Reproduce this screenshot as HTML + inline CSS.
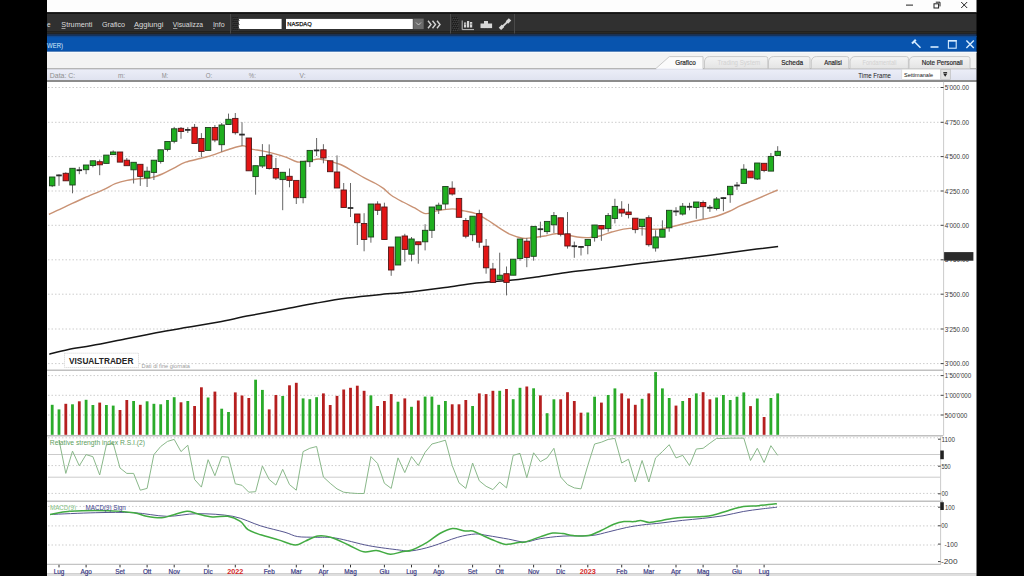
<!DOCTYPE html>
<html><head><meta charset="utf-8">
<style>
html,body{margin:0;padding:0;width:1024px;height:576px;overflow:hidden;background:#000}
svg{position:absolute;left:0;top:0;display:block}
text{font-family:"Liberation Sans",sans-serif}
</style></head><body>
<svg width="1024" height="576" viewBox="0 0 1024 576">
<rect x="0" y="0" width="1024" height="576" fill="#000"/>
<rect x="47" y="0" width="929.5" height="12.4" fill="#fdfdfd"/>
<rect x="906" y="4.6" width="7" height="1" fill="#222"/>
<rect x="934" y="3.8" width="4.6" height="4.2" fill="none" stroke="#222" stroke-width="1"/>
<path d="M935.8,2.2 L940,2.2 L940,6.4" fill="none" stroke="#222" stroke-width="1"/>
<path d="M961.2,2 L967.2,8 M967.2,2 L961.2,8" stroke="#222" stroke-width="1"/>
<rect x="47" y="12.2" width="929.5" height="1.8" fill="#151515"/>
<rect x="47" y="14" width="929.5" height="17.6" fill="#303030"/>
<rect x="47" y="31.6" width="929.5" height="2.2" fill="#2b2a25"/>
<rect x="47" y="33.8" width="929.5" height="2" fill="#1d3150"/>
<text x="46.9" y="27.2" font-size="7.8" fill="#dcdcdc" textLength="3.6" lengthAdjust="spacingAndGlyphs">e</text>
<text x="61.3" y="27.2" font-size="7.8" fill="#dcdcdc" textLength="31.2" lengthAdjust="spacingAndGlyphs">Strumenti</text>
<text x="102" y="27.2" font-size="7.8" fill="#dcdcdc" textLength="23" lengthAdjust="spacingAndGlyphs">Grafico</text>
<text x="134" y="27.2" font-size="7.8" fill="#dcdcdc" textLength="29.4" lengthAdjust="spacingAndGlyphs">Aggiungi</text>
<text x="172.8" y="27.2" font-size="7.8" fill="#dcdcdc" textLength="30.2" lengthAdjust="spacingAndGlyphs">Visualizza</text>
<text x="212.9" y="27.2" font-size="7.8" fill="#dcdcdc" textLength="11.7" lengthAdjust="spacingAndGlyphs">Info</text>
<rect x="61.5" y="28.0" width="4" height="0.7" fill="#cfcfcf"/>
<rect x="134.2" y="28.0" width="4.6" height="0.7" fill="#cfcfcf"/>
<rect x="173" y="28.0" width="4.4" height="0.7" fill="#cfcfcf"/>
<rect x="213.2" y="28.0" width="1.6" height="0.7" fill="#cfcfcf"/>
<rect x="230" y="14" width="1" height="19.5" fill="#494949"/>
<rect x="238.7" y="18.9" width="42.9" height="10.1" fill="#fff"/>
<rect x="286" y="18.9" width="126.8" height="10.1" fill="#fff"/>
<text x="287.3" y="25.6" font-size="6.2" fill="#111" textLength="24.4" lengthAdjust="spacingAndGlyphs" stroke="#111" stroke-width="0.25">NASDAQ</text>
<rect x="413.3" y="18.6" width="10.4" height="10.5" fill="#6b6b6b"/>
<path d="M416,22.5 L418.5,25 L421,22.5" fill="none" stroke="#cfcfcf" stroke-width="0.9"/>
<path d="M428,20.8 L431,24.5 L428,28.2 M432.5,20.8 L435.5,24.5 L432.5,28.2 M437,20.8 L440,24.5 L437,28.2" fill="none" stroke="#d2d2d2" stroke-width="1.4"/>
<rect x="450" y="14" width="1" height="19.5" fill="#4d4d4d"/>
<rect x="232.5" y="17" width="1.2" height="1.2" fill="#1a1a1a"/><rect x="233.5" y="18" width="1" height="1" fill="#3e3e3e"/>
<rect x="234.5" y="17" width="1.2" height="1.2" fill="#1a1a1a"/><rect x="235.5" y="18" width="1" height="1" fill="#3e3e3e"/>
<rect x="236.5" y="17" width="1.2" height="1.2" fill="#1a1a1a"/><rect x="237.5" y="18" width="1" height="1" fill="#3e3e3e"/>
<rect x="233.5" y="19" width="1.2" height="1.2" fill="#1a1a1a"/><rect x="234.5" y="20" width="1" height="1" fill="#3e3e3e"/>
<rect x="235.5" y="19" width="1.2" height="1.2" fill="#1a1a1a"/><rect x="236.5" y="20" width="1" height="1" fill="#3e3e3e"/>
<rect x="237.5" y="19" width="1.2" height="1.2" fill="#1a1a1a"/><rect x="238.5" y="20" width="1" height="1" fill="#3e3e3e"/>
<rect x="232.5" y="21" width="1.2" height="1.2" fill="#1a1a1a"/><rect x="233.5" y="22" width="1" height="1" fill="#3e3e3e"/>
<rect x="234.5" y="21" width="1.2" height="1.2" fill="#1a1a1a"/><rect x="235.5" y="22" width="1" height="1" fill="#3e3e3e"/>
<rect x="236.5" y="21" width="1.2" height="1.2" fill="#1a1a1a"/><rect x="237.5" y="22" width="1" height="1" fill="#3e3e3e"/>
<rect x="233.5" y="23" width="1.2" height="1.2" fill="#1a1a1a"/><rect x="234.5" y="24" width="1" height="1" fill="#3e3e3e"/>
<rect x="235.5" y="23" width="1.2" height="1.2" fill="#1a1a1a"/><rect x="236.5" y="24" width="1" height="1" fill="#3e3e3e"/>
<rect x="237.5" y="23" width="1.2" height="1.2" fill="#1a1a1a"/><rect x="238.5" y="24" width="1" height="1" fill="#3e3e3e"/>
<rect x="232.5" y="25" width="1.2" height="1.2" fill="#1a1a1a"/><rect x="233.5" y="26" width="1" height="1" fill="#3e3e3e"/>
<rect x="234.5" y="25" width="1.2" height="1.2" fill="#1a1a1a"/><rect x="235.5" y="26" width="1" height="1" fill="#3e3e3e"/>
<rect x="236.5" y="25" width="1.2" height="1.2" fill="#1a1a1a"/><rect x="237.5" y="26" width="1" height="1" fill="#3e3e3e"/>
<rect x="233.5" y="27" width="1.2" height="1.2" fill="#1a1a1a"/><rect x="234.5" y="28" width="1" height="1" fill="#3e3e3e"/>
<rect x="235.5" y="27" width="1.2" height="1.2" fill="#1a1a1a"/><rect x="236.5" y="28" width="1" height="1" fill="#3e3e3e"/>
<rect x="237.5" y="27" width="1.2" height="1.2" fill="#1a1a1a"/><rect x="238.5" y="28" width="1" height="1" fill="#3e3e3e"/>
<rect x="232.5" y="29" width="1.2" height="1.2" fill="#1a1a1a"/><rect x="233.5" y="30" width="1" height="1" fill="#3e3e3e"/>
<rect x="234.5" y="29" width="1.2" height="1.2" fill="#1a1a1a"/><rect x="235.5" y="30" width="1" height="1" fill="#3e3e3e"/>
<rect x="236.5" y="29" width="1.2" height="1.2" fill="#1a1a1a"/><rect x="237.5" y="30" width="1" height="1" fill="#3e3e3e"/>
<rect x="452" y="17" width="1.2" height="1.2" fill="#1a1a1a"/><rect x="453" y="18" width="1" height="1" fill="#3e3e3e"/>
<rect x="454" y="17" width="1.2" height="1.2" fill="#1a1a1a"/><rect x="455" y="18" width="1" height="1" fill="#3e3e3e"/>
<rect x="456" y="17" width="1.2" height="1.2" fill="#1a1a1a"/><rect x="457" y="18" width="1" height="1" fill="#3e3e3e"/>
<rect x="453" y="19" width="1.2" height="1.2" fill="#1a1a1a"/><rect x="454" y="20" width="1" height="1" fill="#3e3e3e"/>
<rect x="455" y="19" width="1.2" height="1.2" fill="#1a1a1a"/><rect x="456" y="20" width="1" height="1" fill="#3e3e3e"/>
<rect x="457" y="19" width="1.2" height="1.2" fill="#1a1a1a"/><rect x="458" y="20" width="1" height="1" fill="#3e3e3e"/>
<rect x="452" y="21" width="1.2" height="1.2" fill="#1a1a1a"/><rect x="453" y="22" width="1" height="1" fill="#3e3e3e"/>
<rect x="454" y="21" width="1.2" height="1.2" fill="#1a1a1a"/><rect x="455" y="22" width="1" height="1" fill="#3e3e3e"/>
<rect x="456" y="21" width="1.2" height="1.2" fill="#1a1a1a"/><rect x="457" y="22" width="1" height="1" fill="#3e3e3e"/>
<rect x="453" y="23" width="1.2" height="1.2" fill="#1a1a1a"/><rect x="454" y="24" width="1" height="1" fill="#3e3e3e"/>
<rect x="455" y="23" width="1.2" height="1.2" fill="#1a1a1a"/><rect x="456" y="24" width="1" height="1" fill="#3e3e3e"/>
<rect x="457" y="23" width="1.2" height="1.2" fill="#1a1a1a"/><rect x="458" y="24" width="1" height="1" fill="#3e3e3e"/>
<rect x="452" y="25" width="1.2" height="1.2" fill="#1a1a1a"/><rect x="453" y="26" width="1" height="1" fill="#3e3e3e"/>
<rect x="454" y="25" width="1.2" height="1.2" fill="#1a1a1a"/><rect x="455" y="26" width="1" height="1" fill="#3e3e3e"/>
<rect x="456" y="25" width="1.2" height="1.2" fill="#1a1a1a"/><rect x="457" y="26" width="1" height="1" fill="#3e3e3e"/>
<rect x="453" y="27" width="1.2" height="1.2" fill="#1a1a1a"/><rect x="454" y="28" width="1" height="1" fill="#3e3e3e"/>
<rect x="455" y="27" width="1.2" height="1.2" fill="#1a1a1a"/><rect x="456" y="28" width="1" height="1" fill="#3e3e3e"/>
<rect x="457" y="27" width="1.2" height="1.2" fill="#1a1a1a"/><rect x="458" y="28" width="1" height="1" fill="#3e3e3e"/>
<rect x="452" y="29" width="1.2" height="1.2" fill="#1a1a1a"/><rect x="453" y="30" width="1" height="1" fill="#3e3e3e"/>
<rect x="454" y="29" width="1.2" height="1.2" fill="#1a1a1a"/><rect x="455" y="30" width="1" height="1" fill="#3e3e3e"/>
<rect x="456" y="29" width="1.2" height="1.2" fill="#1a1a1a"/><rect x="457" y="30" width="1" height="1" fill="#3e3e3e"/>
<path d="M462.2,20.5 L462.2,29.6 L474,29.6" fill="none" stroke="#bdbdbd" stroke-width="1"/>
<rect x="464" y="22.5" width="2.2" height="5" fill="#d5d5d5"/><rect x="467" y="21" width="2.2" height="6.5" fill="#d5d5d5"/><rect x="470" y="22" width="2.2" height="5.5" fill="#d5d5d5"/>
<rect x="464.6" y="23.6" width="1" height="1" fill="#333"/><rect x="470.6" y="23.6" width="1" height="1" fill="#333"/>
<rect x="480.5" y="23.5" width="4" height="4.6" fill="#d8d8d8"/><rect x="484" y="21" width="4" height="7.1" fill="#d8d8d8"/><rect x="487.5" y="23.5" width="4.6" height="4.6" fill="#d8d8d8"/>
<path d="M501.5,27.5 L508.5,20.8" stroke="#d8d8d8" stroke-width="1.8"/>
<rect x="499.3" y="25.6" width="4.4" height="3.4" transform="rotate(-45 501.5 27.3)" fill="#d8d8d8"/>
<rect x="506.3" y="19.2" width="4.4" height="3.4" transform="rotate(-45 508.5 20.9)" fill="#d8d8d8"/>
<rect x="514" y="14" width="1" height="19.5" fill="#494949"/>
<rect x="47" y="35.8" width="929.5" height="16" fill="#0854ae"/>
<rect x="47" y="35.8" width="929.5" height="1.4" fill="#13498f"/>
<rect x="47" y="50.8" width="929.5" height="1" fill="#0747a0"/>
<text x="47.1" y="47.7" font-size="7.4" fill="#dcecff" textLength="15.9" lengthAdjust="spacingAndGlyphs">WER)</text>
<path d="M914.5,41.8 L920.5,47.8" stroke="#d6ecff" stroke-width="1.5"/><path d="M912,43.5 L915.8,39.7" stroke="#d6ecff" stroke-width="2"/>
<rect x="930.5" y="46.2" width="8" height="1.6" fill="#d6ecff"/>
<rect x="948.4" y="40.6" width="7.8" height="7.6" fill="none" stroke="#d6ecff" stroke-width="1.1"/><rect x="948" y="40" width="8.6" height="1.6" fill="#d6ecff"/>
<path d="M966.4,40.5 L973.8,48 M973.8,40.5 L966.4,48" stroke="#d6ecff" stroke-width="1.4"/>
<rect x="47" y="51.8" width="929.5" height="16.8" fill="#f3f3f3"/>
<rect x="47" y="51.8" width="929.5" height="1" fill="#f8fcff"/>
<defs><linearGradient id="tg" x1="0" y1="0" x2="0" y2="1"><stop offset="0" stop-color="#f4f4f4"/><stop offset="1" stop-color="#e4e4e4"/></linearGradient><linearGradient id="dg" x1="0" y1="0" x2="0" y2="1"><stop offset="0" stop-color="#eceef8"/><stop offset="1" stop-color="#e0e3f0"/></linearGradient></defs>
<rect x="47" y="68.2" width="929.5" height="0.9" fill="#bdbdbd"/>
<path d="M704.5,68.6 L704.5,61 Q705.5,56.6 709.5,56.6 L765.8,56.6 Q767.8,56.6 767.8,58.6 L767.8,68.6" fill="url(#tg)" stroke="#c4c4c4" stroke-width="0.9"/>
<path d="M768.5,68.6 L768.5,61 Q769.5,56.6 773.5,56.6 L808,56.6 Q810,56.6 810,58.6 L810,68.6" fill="url(#tg)" stroke="#c4c4c4" stroke-width="0.9"/>
<path d="M811.3,68.6 L811.3,61 Q812.3,56.6 816.3,56.6 L846.8,56.6 Q848.8,56.6 848.8,58.6 L848.8,68.6" fill="url(#tg)" stroke="#c4c4c4" stroke-width="0.9"/>
<path d="M850,68.6 L850,61 Q851,56.6 855,56.6 L906.4,56.6 Q908.4,56.6 908.4,58.6 L908.4,68.6" fill="url(#tg)" stroke="#c4c4c4" stroke-width="0.9"/>
<path d="M909,68.6 L909,61 Q910,56.6 914,56.6 L968,56.6 Q970,56.6 970,58.6 L970,68.6" fill="url(#tg)" stroke="#c4c4c4" stroke-width="0.9"/>
<path d="M655.8,68.6 L669.3,56.6 L703,56.6 L703,68.6" fill="#fbfbfb" stroke="#c4c4c4" stroke-width="0.9"/>
<rect x="656.5" y="68" width="46" height="1.5" fill="#f2f3f9"/>
<text x="675.2" y="64.9" font-size="7.2" fill="#2a2a2a" textLength="20.5" lengthAdjust="spacingAndGlyphs" stroke="#2a2a2a" stroke-width="0.2">Grafico</text>
<text x="717.4" y="64.9" font-size="7.2" fill="#d2d2d2" textLength="42.8" lengthAdjust="spacingAndGlyphs">Trading System</text>
<text x="781.2" y="64.9" font-size="7.2" fill="#2a2a2a" textLength="21.9" lengthAdjust="spacingAndGlyphs" stroke="#2a2a2a" stroke-width="0.2">Scheda</text>
<text x="824.2" y="64.9" font-size="7.2" fill="#2a2a2a" textLength="17.6" lengthAdjust="spacingAndGlyphs" stroke="#2a2a2a" stroke-width="0.2">Analisi</text>
<text x="862.5" y="64.9" font-size="7.2" fill="#d2d2d2" textLength="34" lengthAdjust="spacingAndGlyphs">Fondamentali</text>
<text x="921.7" y="64.9" font-size="7.2" fill="#2a2a2a" textLength="41" lengthAdjust="spacingAndGlyphs" stroke="#2a2a2a" stroke-width="0.2">Note Personali</text>
<rect x="47" y="69.1" width="929.5" height="10.9" fill="url(#dg)"/>
<rect x="47" y="80" width="929.5" height="1.8" fill="#8c8c8c"/>
<text x="49.8" y="77.9" font-size="6.7" fill="#8e8e8e" textLength="25.5" lengthAdjust="spacingAndGlyphs">Data: C:</text>
<text x="118" y="77.9" font-size="6.7" fill="#8e8e8e" textLength="7" lengthAdjust="spacingAndGlyphs">m:</text>
<text x="161.7" y="77.9" font-size="6.7" fill="#8e8e8e" textLength="6.5" lengthAdjust="spacingAndGlyphs">M:</text>
<text x="205.7" y="77.9" font-size="6.7" fill="#8e8e8e" textLength="6.5" lengthAdjust="spacingAndGlyphs">O:</text>
<text x="248.8" y="77.9" font-size="6.7" fill="#8e8e8e" textLength="7" lengthAdjust="spacingAndGlyphs">%:</text>
<text x="299.5" y="77.9" font-size="6.7" fill="#8e8e8e" textLength="6" lengthAdjust="spacingAndGlyphs">V:</text>
<text x="858.3" y="77.6" font-size="6.8" fill="#222" textLength="32.6" lengthAdjust="spacingAndGlyphs">Time Frame</text>
<rect x="901.8" y="69.2" width="39" height="10.1" fill="#fff" stroke="#d6d6d6" stroke-width="0.6"/>
<text x="904" y="76.8" font-size="6.2" fill="#111" textLength="29.2" lengthAdjust="spacingAndGlyphs">Settimanale</text>
<rect x="940.8" y="69.6" width="9.5" height="9.7" fill="#e3e3e3" stroke="#bcbcbc" stroke-width="0.7"/>
<rect x="943.3" y="72" width="3.8" height="0.9" fill="#222"/><path d="M943.1,73.6 L947.3,73.6 L945.2,76.8 Z" fill="#222"/>
<rect x="47" y="81.8" width="929.5" height="492" fill="#ffffff"/>
<rect x="47" y="573.8" width="929.5" height="2.2" fill="#dedede"/>
<line x1="48" y1="87.5" x2="940" y2="87.5" stroke="#cdcdcd" stroke-width="1" stroke-dasharray="1.5,2"/>
<line x1="48" y1="122.3" x2="940" y2="122.3" stroke="#cdcdcd" stroke-width="1" stroke-dasharray="1.5,2"/>
<line x1="48" y1="156.6" x2="940" y2="156.6" stroke="#cdcdcd" stroke-width="1" stroke-dasharray="1.5,2"/>
<line x1="48" y1="191.0" x2="940" y2="191.0" stroke="#cdcdcd" stroke-width="1" stroke-dasharray="1.5,2"/>
<line x1="48" y1="225.3" x2="940" y2="225.3" stroke="#cdcdcd" stroke-width="1" stroke-dasharray="1.5,2"/>
<line x1="48" y1="259.8" x2="940" y2="259.8" stroke="#cdcdcd" stroke-width="1" stroke-dasharray="1.5,2"/>
<line x1="48" y1="294.2" x2="940" y2="294.2" stroke="#cdcdcd" stroke-width="1" stroke-dasharray="1.5,2"/>
<line x1="48" y1="329.0" x2="940" y2="329.0" stroke="#cdcdcd" stroke-width="1" stroke-dasharray="1.5,2"/>
<line x1="48" y1="363.6" x2="940" y2="363.6" stroke="#cdcdcd" stroke-width="1" stroke-dasharray="1.5,2"/>
<path d="M49.3,354.2 C52.5,353.4 61.3,350.9 68.4,349.5 C75.5,348.1 82.5,347.3 91.9,345.6 C101.3,343.9 114.3,341.2 125.0,339.1 C135.7,337.0 145.8,334.8 156.2,332.8 C166.7,330.8 177.1,329.1 187.5,327.3 C197.9,325.5 208.3,323.8 218.8,321.9 C229.2,319.9 239.0,317.7 250.0,315.6 C261.0,313.5 274.0,311.2 285.0,309.1 C296.0,307.0 305.8,304.9 316.2,303.1 C326.7,301.3 337.1,299.5 347.5,298.1 C357.9,296.7 368.3,295.7 378.8,294.7 C389.2,293.7 399.0,293.1 410.0,291.9 C421.0,290.7 434.0,289.1 445.0,287.6 C456.0,286.1 465.8,284.2 476.2,283.0 C486.7,281.8 497.1,281.7 507.5,280.6 C517.9,279.6 528.3,278.1 538.8,276.7 C549.2,275.3 559.0,273.4 570.0,272.0 C581.0,270.6 593.3,269.4 605.0,268.0 C616.7,266.6 628.4,265.0 640.1,263.6 C651.8,262.2 663.6,261.0 675.3,259.6 C687.0,258.2 698.7,256.7 710.4,255.2 C722.1,253.7 734.3,252.0 745.6,250.5 C756.9,249.0 772.7,247.1 778.1,246.4" fill="none" stroke="#161616" stroke-width="1.5"/>
<path d="M48.9,214.4 C51.5,213.2 58.6,209.8 64.5,207.1 C70.4,204.4 77.6,200.9 84.1,198.0 C90.6,195.1 98.4,192.0 103.6,189.6 C108.8,187.2 111.4,185.2 115.3,183.7 C119.2,182.2 123.1,181.2 127.0,180.4 C130.9,179.6 134.8,179.2 138.8,178.8 C142.7,178.4 146.6,178.7 150.5,177.9 C154.4,177.1 158.3,175.6 162.2,174.0 C166.1,172.4 170.0,170.1 173.9,168.1 C177.8,166.1 181.0,163.8 185.6,162.2 C190.2,160.6 196.4,159.6 201.2,158.3 C206.1,157.0 210.3,155.9 214.9,154.4 C219.5,152.9 223.9,150.9 228.6,149.5 C233.2,148.1 239.1,145.9 242.8,145.8 C246.5,145.7 247.3,148.1 250.6,148.9 C253.8,149.8 258.4,150.1 262.3,150.9 C266.2,151.7 270.2,152.6 274.1,153.6 C278.0,154.6 281.9,155.7 285.8,157.1 C289.7,158.5 293.6,161.4 297.5,162.0 C301.4,162.6 305.6,161.1 309.2,160.6 C312.8,160.1 315.7,158.9 319.0,159.0 C322.3,159.1 325.2,160.1 328.8,161.0 C332.3,161.9 336.6,162.9 340.5,164.5 C344.4,166.1 348.3,168.6 352.2,170.8 C356.1,173.0 360.0,175.5 363.9,177.6 C367.8,179.7 372.4,181.7 375.6,183.5 C378.9,185.3 380.8,186.5 383.4,188.4 C386.0,190.3 388.0,192.9 391.2,195.2 C394.5,197.5 399.1,199.9 403.0,202.0 C406.9,204.1 410.9,206.0 414.7,207.9 C418.4,209.8 421.8,213.1 425.5,213.6 C429.2,214.1 432.2,211.7 436.7,210.9 C441.2,210.1 447.7,208.9 452.3,208.9 C456.9,208.9 460.2,210.1 464.1,210.9 C468.0,211.7 471.9,212.1 475.8,213.6 C479.7,215.1 483.6,217.6 487.5,220.0 C491.4,222.4 495.3,225.4 499.2,227.8 C503.1,230.3 507.0,233.0 510.9,234.7 C514.8,236.4 518.8,237.7 522.7,238.2 C526.6,238.7 530.5,238.0 534.4,237.6 C538.3,237.2 542.5,236.3 546.1,235.7 C549.7,235.0 552.6,233.9 555.9,233.7 C559.1,233.5 562.0,234.1 565.6,234.7 C569.2,235.2 573.4,236.5 577.3,237.0 C581.2,237.5 585.1,237.8 589.0,237.6 C592.9,237.4 596.9,236.7 600.8,235.7 C604.7,234.7 608.7,232.8 612.5,231.8 C616.3,230.7 619.6,229.7 623.4,229.1 C627.2,228.5 631.3,228.1 635.2,228.1 C639.1,228.1 643.0,228.9 646.9,229.1 C650.8,229.3 654.7,229.4 658.6,229.1 C662.5,228.8 666.4,227.9 670.3,227.1 C674.2,226.3 678.1,225.2 682.0,224.2 C685.9,223.2 689.8,222.2 693.8,221.3 C697.7,220.4 701.6,219.6 705.5,218.8 C709.4,217.9 713.3,217.2 717.2,216.0 C721.1,214.8 725.0,213.2 728.9,211.5 C732.8,209.8 736.7,207.5 740.6,205.7 C744.5,203.9 748.4,202.4 752.3,200.8 C756.2,199.2 759.8,197.7 764.0,195.9 C768.2,194.1 775.4,191.0 777.7,190.0" fill="none" stroke="#c99274" stroke-width="1.4"/>
<line x1="52.2" y1="177" x2="52.2" y2="187.1" stroke="#666" stroke-width="1"/>
<rect x="49.5" y="177" width="5.4" height="8.8" fill="#1faf1f" stroke="#1e401e" stroke-width="0.9"/>
<line x1="59.0" y1="174.4" x2="59.0" y2="185.8" stroke="#666" stroke-width="1"/>
<rect x="56.2" y="174.5" width="5.6" height="1.8" fill="#2a2a2a"/>
<line x1="65.8" y1="172.3" x2="65.8" y2="180.8" stroke="#666" stroke-width="1"/>
<rect x="63.1" y="173.3" width="5.4" height="7.5" fill="#e31515" stroke="#501818" stroke-width="0.9"/>
<line x1="72.5" y1="168.3" x2="72.5" y2="193.3" stroke="#666" stroke-width="1"/>
<rect x="69.8" y="168.3" width="5.4" height="16.7" fill="#1faf1f" stroke="#1e401e" stroke-width="0.9"/>
<line x1="79.3" y1="166.9" x2="79.3" y2="174.2" stroke="#666" stroke-width="1"/>
<rect x="76.5" y="169.3" width="5.6" height="1.8" fill="#2a2a2a"/>
<line x1="86.1" y1="165" x2="86.1" y2="174.2" stroke="#666" stroke-width="1"/>
<rect x="83.4" y="165" width="5.4" height="4.7" fill="#1faf1f" stroke="#1e401e" stroke-width="0.9"/>
<line x1="92.9" y1="160.8" x2="92.9" y2="167.3" stroke="#666" stroke-width="1"/>
<rect x="90.2" y="160.8" width="5.4" height="4.7" fill="#1faf1f" stroke="#1e401e" stroke-width="0.9"/>
<line x1="99.7" y1="159.6" x2="99.7" y2="175.2" stroke="#666" stroke-width="1"/>
<rect x="97.0" y="161.7" width="5.4" height="3.1" fill="#e31515" stroke="#501818" stroke-width="0.9"/>
<line x1="106.4" y1="155.1" x2="106.4" y2="163.4" stroke="#666" stroke-width="1"/>
<rect x="103.7" y="155.1" width="5.4" height="8.3" fill="#1faf1f" stroke="#1e401e" stroke-width="0.9"/>
<line x1="113.2" y1="150.4" x2="113.2" y2="154.6" stroke="#666" stroke-width="1"/>
<rect x="110.5" y="152" width="5.4" height="2.6" fill="#1faf1f" stroke="#1e401e" stroke-width="0.9"/>
<line x1="120.0" y1="152" x2="120.0" y2="162.1" stroke="#666" stroke-width="1"/>
<rect x="117.3" y="152" width="5.4" height="10.1" fill="#e31515" stroke="#501818" stroke-width="0.9"/>
<line x1="126.8" y1="158" x2="126.8" y2="165.7" stroke="#666" stroke-width="1"/>
<rect x="124.1" y="160.2" width="5.4" height="5.5" fill="#e31515" stroke="#501818" stroke-width="0.9"/>
<line x1="133.6" y1="162.3" x2="133.6" y2="183.5" stroke="#666" stroke-width="1"/>
<rect x="130.9" y="162.3" width="5.4" height="7.5" fill="#1faf1f" stroke="#1e401e" stroke-width="0.9"/>
<line x1="140.3" y1="164.3" x2="140.3" y2="185.9" stroke="#666" stroke-width="1"/>
<rect x="137.6" y="164.3" width="5.4" height="12.1" fill="#e31515" stroke="#501818" stroke-width="0.9"/>
<line x1="147.1" y1="166.7" x2="147.1" y2="187" stroke="#666" stroke-width="1"/>
<rect x="144.4" y="171.2" width="5.4" height="6.8" fill="#1faf1f" stroke="#1e401e" stroke-width="0.9"/>
<line x1="153.9" y1="160.2" x2="153.9" y2="180" stroke="#666" stroke-width="1"/>
<rect x="151.2" y="160.2" width="5.4" height="12.2" fill="#1faf1f" stroke="#1e401e" stroke-width="0.9"/>
<line x1="160.7" y1="149.8" x2="160.7" y2="163.6" stroke="#666" stroke-width="1"/>
<rect x="158.0" y="149.8" width="5.4" height="11.7" fill="#1faf1f" stroke="#1e401e" stroke-width="0.9"/>
<line x1="167.5" y1="141.5" x2="167.5" y2="151.4" stroke="#666" stroke-width="1"/>
<rect x="164.8" y="141.5" width="5.4" height="7.9" fill="#1faf1f" stroke="#1e401e" stroke-width="0.9"/>
<line x1="174.2" y1="126.9" x2="174.2" y2="143.3" stroke="#666" stroke-width="1"/>
<rect x="171.5" y="128.8" width="5.4" height="12.5" fill="#1faf1f" stroke="#1e401e" stroke-width="0.9"/>
<line x1="181.0" y1="127" x2="181.0" y2="138.8" stroke="#666" stroke-width="1"/>
<rect x="178.3" y="128.3" width="5.4" height="3.2" fill="#e31515" stroke="#501818" stroke-width="0.9"/>
<line x1="187.8" y1="127.2" x2="187.8" y2="133" stroke="#666" stroke-width="1"/>
<rect x="185.0" y="129.0" width="5.6" height="1.8" fill="#2a2a2a"/>
<line x1="194.6" y1="124" x2="194.6" y2="143.5" stroke="#666" stroke-width="1"/>
<rect x="191.9" y="127.3" width="5.4" height="16.2" fill="#e31515" stroke="#501818" stroke-width="0.9"/>
<line x1="201.4" y1="133.1" x2="201.4" y2="157.2" stroke="#666" stroke-width="1"/>
<rect x="198.7" y="138.5" width="5.4" height="13.0" fill="#e31515" stroke="#501818" stroke-width="0.9"/>
<line x1="208.1" y1="127.5" x2="208.1" y2="150.4" stroke="#666" stroke-width="1"/>
<rect x="205.4" y="127.5" width="5.4" height="22.9" fill="#1faf1f" stroke="#1e401e" stroke-width="0.9"/>
<line x1="214.9" y1="125" x2="214.9" y2="142.2" stroke="#666" stroke-width="1"/>
<rect x="212.2" y="127.5" width="5.4" height="12.5" fill="#e31515" stroke="#501818" stroke-width="0.9"/>
<line x1="221.7" y1="123" x2="221.7" y2="151.8" stroke="#666" stroke-width="1"/>
<rect x="219.0" y="125" width="5.4" height="19.7" fill="#1faf1f" stroke="#1e401e" stroke-width="0.9"/>
<line x1="228.5" y1="113.6" x2="228.5" y2="124.5" stroke="#666" stroke-width="1"/>
<rect x="225.8" y="119.3" width="5.4" height="5.2" fill="#1faf1f" stroke="#1e401e" stroke-width="0.9"/>
<line x1="235.3" y1="113" x2="235.3" y2="134.6" stroke="#666" stroke-width="1"/>
<rect x="232.6" y="118.4" width="5.4" height="14.3" fill="#e31515" stroke="#501818" stroke-width="0.9"/>
<line x1="242.0" y1="122.2" x2="242.0" y2="146" stroke="#666" stroke-width="1"/>
<rect x="239.2" y="133.7" width="5.6" height="1.8" fill="#2a2a2a"/>
<line x1="248.8" y1="138" x2="248.8" y2="170.8" stroke="#666" stroke-width="1"/>
<rect x="246.1" y="138" width="5.4" height="32.8" fill="#e31515" stroke="#501818" stroke-width="0.9"/>
<line x1="255.6" y1="165.7" x2="255.6" y2="194.7" stroke="#666" stroke-width="1"/>
<rect x="252.9" y="165.7" width="5.4" height="10.9" fill="#1faf1f" stroke="#1e401e" stroke-width="0.9"/>
<line x1="262.4" y1="144.1" x2="262.4" y2="168" stroke="#666" stroke-width="1"/>
<rect x="259.7" y="156.5" width="5.4" height="9.5" fill="#1faf1f" stroke="#1e401e" stroke-width="0.9"/>
<line x1="269.2" y1="144.4" x2="269.2" y2="169.6" stroke="#666" stroke-width="1"/>
<rect x="266.5" y="155" width="5.4" height="13.5" fill="#e31515" stroke="#501818" stroke-width="0.9"/>
<line x1="275.9" y1="158" x2="275.9" y2="180" stroke="#666" stroke-width="1"/>
<rect x="273.2" y="168.5" width="5.4" height="9.5" fill="#e31515" stroke="#501818" stroke-width="0.9"/>
<line x1="282.7" y1="172.3" x2="282.7" y2="210.2" stroke="#666" stroke-width="1"/>
<rect x="280.0" y="172.3" width="5.4" height="7.3" fill="#1faf1f" stroke="#1e401e" stroke-width="0.9"/>
<line x1="289.5" y1="168.5" x2="289.5" y2="187.3" stroke="#666" stroke-width="1"/>
<rect x="286.8" y="176.3" width="5.4" height="4.1" fill="#e31515" stroke="#501818" stroke-width="0.9"/>
<line x1="296.3" y1="180.4" x2="296.3" y2="204" stroke="#666" stroke-width="1"/>
<rect x="293.6" y="180.4" width="5.4" height="17.3" fill="#e31515" stroke="#501818" stroke-width="0.9"/>
<line x1="303.1" y1="161.25" x2="303.1" y2="203.3" stroke="#666" stroke-width="1"/>
<rect x="300.4" y="161.25" width="5.4" height="36.4" fill="#1faf1f" stroke="#1e401e" stroke-width="0.9"/>
<line x1="309.8" y1="150.4" x2="309.8" y2="167" stroke="#666" stroke-width="1"/>
<rect x="307.1" y="150.4" width="5.4" height="11.3" fill="#1faf1f" stroke="#1e401e" stroke-width="0.9"/>
<line x1="316.6" y1="138" x2="316.6" y2="156" stroke="#666" stroke-width="1"/>
<rect x="313.8" y="149.5" width="5.6" height="1.8" fill="#2a2a2a"/>
<line x1="323.4" y1="144.2" x2="323.4" y2="163.3" stroke="#666" stroke-width="1"/>
<rect x="320.7" y="149.8" width="5.4" height="8.2" fill="#e31515" stroke="#501818" stroke-width="0.9"/>
<line x1="330.2" y1="160.8" x2="330.2" y2="171.7" stroke="#666" stroke-width="1"/>
<rect x="327.5" y="160.8" width="5.4" height="10.9" fill="#e31515" stroke="#501818" stroke-width="0.9"/>
<line x1="337.0" y1="155.4" x2="337.0" y2="188" stroke="#666" stroke-width="1"/>
<rect x="334.3" y="172" width="5.4" height="16.0" fill="#e31515" stroke="#501818" stroke-width="0.9"/>
<line x1="343.7" y1="183" x2="343.7" y2="207.5" stroke="#666" stroke-width="1"/>
<rect x="341.0" y="190" width="5.4" height="17.5" fill="#e31515" stroke="#501818" stroke-width="0.9"/>
<line x1="350.5" y1="183" x2="350.5" y2="217" stroke="#666" stroke-width="1"/>
<rect x="347.7" y="207.1" width="5.6" height="1.8" fill="#2a2a2a"/>
<line x1="357.3" y1="214" x2="357.3" y2="245" stroke="#666" stroke-width="1"/>
<rect x="354.6" y="214" width="5.4" height="8.7" fill="#e31515" stroke="#501818" stroke-width="0.9"/>
<line x1="364.1" y1="213.2" x2="364.1" y2="251.3" stroke="#666" stroke-width="1"/>
<rect x="361.4" y="223.5" width="5.4" height="16.0" fill="#e31515" stroke="#501818" stroke-width="0.9"/>
<line x1="370.9" y1="204" x2="370.9" y2="242.7" stroke="#666" stroke-width="1"/>
<rect x="368.2" y="204" width="5.4" height="33.0" fill="#1faf1f" stroke="#1e401e" stroke-width="0.9"/>
<line x1="377.6" y1="201.3" x2="377.6" y2="215" stroke="#666" stroke-width="1"/>
<rect x="374.9" y="204" width="5.4" height="6.3" fill="#e31515" stroke="#501818" stroke-width="0.9"/>
<line x1="384.4" y1="202.7" x2="384.4" y2="239.5" stroke="#666" stroke-width="1"/>
<rect x="381.7" y="207" width="5.4" height="32.5" fill="#e31515" stroke="#501818" stroke-width="0.9"/>
<line x1="391.2" y1="247" x2="391.2" y2="275.8" stroke="#666" stroke-width="1"/>
<rect x="388.5" y="247" width="5.4" height="23.0" fill="#e31515" stroke="#501818" stroke-width="0.9"/>
<line x1="398.0" y1="237" x2="398.0" y2="265" stroke="#666" stroke-width="1"/>
<rect x="395.3" y="237" width="5.4" height="28.0" fill="#1faf1f" stroke="#1e401e" stroke-width="0.9"/>
<line x1="404.8" y1="233.8" x2="404.8" y2="261.8" stroke="#666" stroke-width="1"/>
<rect x="402.1" y="236" width="5.4" height="13.4" fill="#e31515" stroke="#501818" stroke-width="0.9"/>
<line x1="411.5" y1="237" x2="411.5" y2="261.3" stroke="#666" stroke-width="1"/>
<rect x="408.8" y="239" width="5.4" height="15.2" fill="#1faf1f" stroke="#1e401e" stroke-width="0.9"/>
<line x1="418.3" y1="241.8" x2="418.3" y2="263.7" stroke="#666" stroke-width="1"/>
<rect x="415.6" y="241.8" width="5.4" height="2.9" fill="#e31515" stroke="#501818" stroke-width="0.9"/>
<line x1="425.1" y1="224.2" x2="425.1" y2="250.4" stroke="#666" stroke-width="1"/>
<rect x="422.4" y="230.3" width="5.4" height="11.5" fill="#1faf1f" stroke="#1e401e" stroke-width="0.9"/>
<line x1="431.9" y1="207" x2="431.9" y2="238" stroke="#666" stroke-width="1"/>
<rect x="429.2" y="207" width="5.4" height="23.3" fill="#1faf1f" stroke="#1e401e" stroke-width="0.9"/>
<line x1="438.7" y1="202.7" x2="438.7" y2="214" stroke="#666" stroke-width="1"/>
<rect x="436.0" y="205.2" width="5.4" height="4.5" fill="#1faf1f" stroke="#1e401e" stroke-width="0.9"/>
<line x1="445.4" y1="186.5" x2="445.4" y2="209.4" stroke="#666" stroke-width="1"/>
<rect x="442.7" y="186.5" width="5.4" height="17.5" fill="#1faf1f" stroke="#1e401e" stroke-width="0.9"/>
<line x1="452.2" y1="181.3" x2="452.2" y2="195.6" stroke="#666" stroke-width="1"/>
<rect x="449.5" y="188.2" width="5.4" height="5.8" fill="#e31515" stroke="#501818" stroke-width="0.9"/>
<line x1="459.0" y1="198.4" x2="459.0" y2="217.3" stroke="#666" stroke-width="1"/>
<rect x="456.3" y="198.4" width="5.4" height="18.9" fill="#e31515" stroke="#501818" stroke-width="0.9"/>
<line x1="465.8" y1="218" x2="465.8" y2="238.3" stroke="#666" stroke-width="1"/>
<rect x="463.1" y="220.5" width="5.4" height="15.7" fill="#e31515" stroke="#501818" stroke-width="0.9"/>
<line x1="472.6" y1="216.2" x2="472.6" y2="241.2" stroke="#666" stroke-width="1"/>
<rect x="469.9" y="216.2" width="5.4" height="18.5" fill="#1faf1f" stroke="#1e401e" stroke-width="0.9"/>
<line x1="479.3" y1="209.7" x2="479.3" y2="247.7" stroke="#666" stroke-width="1"/>
<rect x="476.6" y="213.6" width="5.4" height="28.6" fill="#e31515" stroke="#501818" stroke-width="0.9"/>
<line x1="486.1" y1="239" x2="486.1" y2="273.7" stroke="#666" stroke-width="1"/>
<rect x="483.4" y="246.2" width="5.4" height="21.6" fill="#e31515" stroke="#501818" stroke-width="0.9"/>
<line x1="492.9" y1="262.9" x2="492.9" y2="282.4" stroke="#666" stroke-width="1"/>
<rect x="490.2" y="269" width="5.4" height="13.4" fill="#e31515" stroke="#501818" stroke-width="0.9"/>
<line x1="499.7" y1="252.7" x2="499.7" y2="280.2" stroke="#666" stroke-width="1"/>
<rect x="497.0" y="275.2" width="5.4" height="4.4" fill="#1faf1f" stroke="#1e401e" stroke-width="0.9"/>
<line x1="506.5" y1="266.5" x2="506.5" y2="295.4" stroke="#666" stroke-width="1"/>
<rect x="503.8" y="273.7" width="5.4" height="8.7" fill="#e31515" stroke="#501818" stroke-width="0.9"/>
<line x1="513.2" y1="259.2" x2="513.2" y2="275.2" stroke="#666" stroke-width="1"/>
<rect x="510.5" y="259.2" width="5.4" height="16.0" fill="#1faf1f" stroke="#1e401e" stroke-width="0.9"/>
<line x1="520.0" y1="239" x2="520.0" y2="260.7" stroke="#666" stroke-width="1"/>
<rect x="517.3" y="239" width="5.4" height="19.5" fill="#1faf1f" stroke="#1e401e" stroke-width="0.9"/>
<line x1="526.8" y1="238" x2="526.8" y2="267.2" stroke="#666" stroke-width="1"/>
<rect x="524.1" y="241.2" width="5.4" height="16.2" fill="#e31515" stroke="#501818" stroke-width="0.9"/>
<line x1="533.6" y1="226.4" x2="533.6" y2="260.7" stroke="#666" stroke-width="1"/>
<rect x="530.9" y="226.4" width="5.4" height="29.9" fill="#1faf1f" stroke="#1e401e" stroke-width="0.9"/>
<line x1="540.4" y1="221.7" x2="540.4" y2="237.5" stroke="#666" stroke-width="1"/>
<rect x="537.6" y="228.3" width="5.6" height="1.8" fill="#2a2a2a"/>
<line x1="547.1" y1="221.4" x2="547.1" y2="234.2" stroke="#666" stroke-width="1"/>
<rect x="544.4" y="221.4" width="5.4" height="10.2" fill="#1faf1f" stroke="#1e401e" stroke-width="0.9"/>
<line x1="553.9" y1="212" x2="553.9" y2="233" stroke="#666" stroke-width="1"/>
<rect x="551.2" y="215.6" width="5.4" height="9.2" fill="#1faf1f" stroke="#1e401e" stroke-width="0.9"/>
<line x1="560.7" y1="217.8" x2="560.7" y2="236.4" stroke="#666" stroke-width="1"/>
<rect x="558.0" y="217.8" width="5.4" height="16.4" fill="#e31515" stroke="#501818" stroke-width="0.9"/>
<line x1="567.5" y1="212" x2="567.5" y2="248.6" stroke="#666" stroke-width="1"/>
<rect x="564.8" y="233.8" width="5.4" height="12.2" fill="#e31515" stroke="#501818" stroke-width="0.9"/>
<line x1="574.3" y1="241.6" x2="574.3" y2="257.8" stroke="#666" stroke-width="1"/>
<rect x="571.5" y="245.3" width="5.6" height="1.8" fill="#2a2a2a"/>
<line x1="581.0" y1="246.2" x2="581.0" y2="255.5" stroke="#666" stroke-width="1"/>
<rect x="578.2" y="246.0" width="5.6" height="1.8" fill="#2a2a2a"/>
<line x1="587.8" y1="239.4" x2="587.8" y2="254.3" stroke="#666" stroke-width="1"/>
<rect x="585.1" y="239.4" width="5.4" height="6.2" fill="#1faf1f" stroke="#1e401e" stroke-width="0.9"/>
<line x1="594.6" y1="225" x2="594.6" y2="241.6" stroke="#666" stroke-width="1"/>
<rect x="591.9" y="225" width="5.4" height="12.6" fill="#1faf1f" stroke="#1e401e" stroke-width="0.9"/>
<line x1="601.4" y1="225.5" x2="601.4" y2="240.8" stroke="#666" stroke-width="1"/>
<rect x="598.7" y="225.5" width="5.4" height="3.5" fill="#e31515" stroke="#501818" stroke-width="0.9"/>
<line x1="608.2" y1="213" x2="608.2" y2="231.7" stroke="#666" stroke-width="1"/>
<rect x="605.5" y="215.6" width="5.4" height="13.0" fill="#1faf1f" stroke="#1e401e" stroke-width="0.9"/>
<line x1="614.9" y1="198.75" x2="614.9" y2="223.4" stroke="#666" stroke-width="1"/>
<rect x="612.2" y="206.4" width="5.4" height="12.1" fill="#1faf1f" stroke="#1e401e" stroke-width="0.9"/>
<line x1="621.7" y1="201.2" x2="621.7" y2="216.8" stroke="#666" stroke-width="1"/>
<rect x="619.0" y="209.2" width="5.4" height="3.8" fill="#e31515" stroke="#501818" stroke-width="0.9"/>
<line x1="628.5" y1="203.8" x2="628.5" y2="218.4" stroke="#666" stroke-width="1"/>
<rect x="625.8" y="212" width="5.4" height="2.6" fill="#e31515" stroke="#501818" stroke-width="0.9"/>
<line x1="635.3" y1="218.2" x2="635.3" y2="233.3" stroke="#666" stroke-width="1"/>
<rect x="632.6" y="218.2" width="5.4" height="11.4" fill="#e31515" stroke="#501818" stroke-width="0.9"/>
<line x1="642.1" y1="219.2" x2="642.1" y2="235.6" stroke="#666" stroke-width="1"/>
<rect x="639.4" y="219.2" width="5.4" height="7.4" fill="#1faf1f" stroke="#1e401e" stroke-width="0.9"/>
<line x1="648.8" y1="215.3" x2="648.8" y2="246.6" stroke="#666" stroke-width="1"/>
<rect x="646.1" y="217.7" width="5.4" height="27.0" fill="#e31515" stroke="#501818" stroke-width="0.9"/>
<line x1="655.6" y1="230.2" x2="655.6" y2="251.6" stroke="#666" stroke-width="1"/>
<rect x="652.9" y="236.9" width="5.4" height="11.1" fill="#1faf1f" stroke="#1e401e" stroke-width="0.9"/>
<line x1="662.4" y1="220.3" x2="662.4" y2="237.2" stroke="#666" stroke-width="1"/>
<rect x="659.7" y="229.4" width="5.4" height="7.8" fill="#1faf1f" stroke="#1e401e" stroke-width="0.9"/>
<line x1="669.2" y1="210.3" x2="669.2" y2="231.7" stroke="#666" stroke-width="1"/>
<rect x="666.5" y="210.3" width="5.4" height="17.5" fill="#1faf1f" stroke="#1e401e" stroke-width="0.9"/>
<line x1="676.0" y1="207.2" x2="676.0" y2="216" stroke="#666" stroke-width="1"/>
<rect x="673.2" y="210.5" width="5.6" height="1.8" fill="#2a2a2a"/>
<line x1="682.7" y1="203" x2="682.7" y2="215.6" stroke="#666" stroke-width="1"/>
<rect x="680.0" y="206.25" width="5.4" height="7.8" fill="#1faf1f" stroke="#1e401e" stroke-width="0.9"/>
<line x1="689.5" y1="202.8" x2="689.5" y2="210.3" stroke="#666" stroke-width="1"/>
<rect x="686.7" y="205.9" width="5.6" height="1.8" fill="#2a2a2a"/>
<line x1="696.3" y1="202" x2="696.3" y2="218.75" stroke="#666" stroke-width="1"/>
<rect x="693.6" y="202" width="5.4" height="5.5" fill="#1faf1f" stroke="#1e401e" stroke-width="0.9"/>
<line x1="703.1" y1="200.5" x2="703.1" y2="218.75" stroke="#666" stroke-width="1"/>
<rect x="700.4" y="202.5" width="5.4" height="4.2" fill="#e31515" stroke="#501818" stroke-width="0.9"/>
<line x1="709.9" y1="205" x2="709.9" y2="211.9" stroke="#666" stroke-width="1"/>
<rect x="707.1" y="206.8" width="5.6" height="1.8" fill="#2a2a2a"/>
<line x1="716.6" y1="197" x2="716.6" y2="210.4" stroke="#666" stroke-width="1"/>
<rect x="713.9" y="199" width="5.4" height="9.5" fill="#1faf1f" stroke="#1e401e" stroke-width="0.9"/>
<line x1="723.4" y1="197.3" x2="723.4" y2="211.2" stroke="#666" stroke-width="1"/>
<rect x="720.6" y="197.2" width="5.6" height="1.8" fill="#2a2a2a"/>
<line x1="730.2" y1="186.3" x2="730.2" y2="202.8" stroke="#666" stroke-width="1"/>
<rect x="727.5" y="186.3" width="5.4" height="8.4" fill="#1faf1f" stroke="#1e401e" stroke-width="0.9"/>
<line x1="737.0" y1="182" x2="737.0" y2="189.9" stroke="#666" stroke-width="1"/>
<rect x="734.2" y="184.6" width="5.6" height="1.8" fill="#2a2a2a"/>
<line x1="743.8" y1="164.2" x2="743.8" y2="183.4" stroke="#666" stroke-width="1"/>
<rect x="741.1" y="169.2" width="5.4" height="14.2" fill="#1faf1f" stroke="#1e401e" stroke-width="0.9"/>
<line x1="750.5" y1="171.1" x2="750.5" y2="177.8" stroke="#666" stroke-width="1"/>
<rect x="747.8" y="171.1" width="5.4" height="6.7" fill="#e31515" stroke="#501818" stroke-width="0.9"/>
<line x1="757.3" y1="163" x2="757.3" y2="180" stroke="#666" stroke-width="1"/>
<rect x="754.6" y="163" width="5.4" height="16.0" fill="#1faf1f" stroke="#1e401e" stroke-width="0.9"/>
<line x1="764.1" y1="163.3" x2="764.1" y2="172.2" stroke="#666" stroke-width="1"/>
<rect x="761.4" y="163.3" width="5.4" height="7.1" fill="#e31515" stroke="#501818" stroke-width="0.9"/>
<line x1="770.9" y1="153" x2="770.9" y2="171.1" stroke="#666" stroke-width="1"/>
<rect x="768.2" y="156.4" width="5.4" height="14.7" fill="#1faf1f" stroke="#1e401e" stroke-width="0.9"/>
<line x1="777.7" y1="146.2" x2="777.7" y2="155.5" stroke="#666" stroke-width="1"/>
<rect x="775.0" y="151.3" width="5.4" height="4.2" fill="#1faf1f" stroke="#1e401e" stroke-width="0.9"/>
<line x1="48" y1="375.6" x2="940" y2="375.6" stroke="#cdcdcd" stroke-width="1" stroke-dasharray="1.5,2"/>
<line x1="48" y1="395.3" x2="940" y2="395.3" stroke="#cdcdcd" stroke-width="1" stroke-dasharray="1.5,2"/>
<line x1="48" y1="415.0" x2="940" y2="415.0" stroke="#cdcdcd" stroke-width="1" stroke-dasharray="1.5,2"/>
<rect x="50.8" y="404.8" width="2.8" height="30.0" fill="#2aab2a"/>
<rect x="57.6" y="409.4" width="2.8" height="25.4" fill="#2aab2a"/>
<rect x="64.4" y="403.8" width="2.8" height="31.0" fill="#b51f1f"/>
<rect x="71.1" y="404.3" width="2.8" height="30.5" fill="#2aab2a"/>
<rect x="77.9" y="401.3" width="2.8" height="33.5" fill="#b51f1f"/>
<rect x="84.7" y="399.8" width="2.8" height="35.0" fill="#2aab2a"/>
<rect x="91.5" y="405" width="2.8" height="29.8" fill="#2aab2a"/>
<rect x="98.3" y="402.6" width="2.8" height="32.2" fill="#b51f1f"/>
<rect x="105.0" y="405" width="2.8" height="29.8" fill="#2aab2a"/>
<rect x="111.8" y="405.6" width="2.8" height="29.2" fill="#2aab2a"/>
<rect x="118.6" y="410" width="2.8" height="24.8" fill="#b51f1f"/>
<rect x="125.4" y="400" width="2.8" height="34.8" fill="#b51f1f"/>
<rect x="132.2" y="401" width="2.8" height="33.8" fill="#2aab2a"/>
<rect x="138.9" y="404.8" width="2.8" height="30.0" fill="#b51f1f"/>
<rect x="145.7" y="401.3" width="2.8" height="33.5" fill="#2aab2a"/>
<rect x="152.5" y="403.8" width="2.8" height="31.0" fill="#2aab2a"/>
<rect x="159.3" y="404.3" width="2.8" height="30.5" fill="#2aab2a"/>
<rect x="166.1" y="400" width="2.8" height="34.8" fill="#2aab2a"/>
<rect x="172.8" y="397.2" width="2.8" height="37.6" fill="#2aab2a"/>
<rect x="179.6" y="402.3" width="2.8" height="32.5" fill="#b51f1f"/>
<rect x="186.4" y="401" width="2.8" height="33.8" fill="#2aab2a"/>
<rect x="193.2" y="406" width="2.8" height="28.8" fill="#b51f1f"/>
<rect x="200.0" y="387.3" width="2.8" height="47.5" fill="#b51f1f"/>
<rect x="206.7" y="397.5" width="2.8" height="37.3" fill="#2aab2a"/>
<rect x="213.5" y="391.6" width="2.8" height="43.2" fill="#b51f1f"/>
<rect x="220.3" y="408.7" width="2.8" height="26.1" fill="#2aab2a"/>
<rect x="227.1" y="412" width="2.8" height="22.8" fill="#2aab2a"/>
<rect x="233.9" y="392.4" width="2.8" height="42.4" fill="#b51f1f"/>
<rect x="240.6" y="395.5" width="2.8" height="39.3" fill="#b51f1f"/>
<rect x="247.4" y="398" width="2.8" height="36.8" fill="#b51f1f"/>
<rect x="254.2" y="379.7" width="2.8" height="55.1" fill="#2aab2a"/>
<rect x="261.0" y="389.9" width="2.8" height="44.9" fill="#2aab2a"/>
<rect x="267.8" y="409.4" width="2.8" height="25.4" fill="#b51f1f"/>
<rect x="274.5" y="395" width="2.8" height="39.8" fill="#b51f1f"/>
<rect x="281.3" y="396" width="2.8" height="38.8" fill="#2aab2a"/>
<rect x="288.1" y="385.3" width="2.8" height="49.5" fill="#b51f1f"/>
<rect x="294.9" y="382.8" width="2.8" height="52.0" fill="#b51f1f"/>
<rect x="301.7" y="398.4" width="2.8" height="36.4" fill="#2aab2a"/>
<rect x="308.4" y="399.2" width="2.8" height="35.6" fill="#2aab2a"/>
<rect x="315.2" y="397.2" width="2.8" height="37.6" fill="#2aab2a"/>
<rect x="322.0" y="393.4" width="2.8" height="41.4" fill="#b51f1f"/>
<rect x="328.8" y="405" width="2.8" height="29.8" fill="#b51f1f"/>
<rect x="335.6" y="395.9" width="2.8" height="38.9" fill="#b51f1f"/>
<rect x="342.3" y="389.5" width="2.8" height="45.3" fill="#b51f1f"/>
<rect x="349.1" y="387.8" width="2.8" height="47.0" fill="#b51f1f"/>
<rect x="355.9" y="385.7" width="2.8" height="49.1" fill="#b51f1f"/>
<rect x="362.7" y="390.8" width="2.8" height="44.0" fill="#b51f1f"/>
<rect x="369.5" y="395.4" width="2.8" height="39.4" fill="#2aab2a"/>
<rect x="376.2" y="406" width="2.8" height="28.8" fill="#b51f1f"/>
<rect x="383.0" y="401" width="2.8" height="33.8" fill="#b51f1f"/>
<rect x="389.8" y="394.1" width="2.8" height="40.7" fill="#b51f1f"/>
<rect x="396.6" y="401.7" width="2.8" height="33.1" fill="#2aab2a"/>
<rect x="403.4" y="398.4" width="2.8" height="36.4" fill="#b51f1f"/>
<rect x="410.1" y="406.8" width="2.8" height="28.0" fill="#2aab2a"/>
<rect x="416.9" y="400.5" width="2.8" height="34.3" fill="#b51f1f"/>
<rect x="423.7" y="396.6" width="2.8" height="38.2" fill="#2aab2a"/>
<rect x="430.5" y="396.6" width="2.8" height="38.2" fill="#2aab2a"/>
<rect x="437.3" y="404.8" width="2.8" height="30.0" fill="#2aab2a"/>
<rect x="444.0" y="401" width="2.8" height="33.8" fill="#2aab2a"/>
<rect x="450.8" y="404.3" width="2.8" height="30.5" fill="#b51f1f"/>
<rect x="457.6" y="404.3" width="2.8" height="30.5" fill="#b51f1f"/>
<rect x="464.4" y="400" width="2.8" height="34.8" fill="#b51f1f"/>
<rect x="471.2" y="406" width="2.8" height="28.8" fill="#2aab2a"/>
<rect x="477.9" y="393.4" width="2.8" height="41.4" fill="#b51f1f"/>
<rect x="484.7" y="394.1" width="2.8" height="40.7" fill="#b51f1f"/>
<rect x="491.5" y="390.8" width="2.8" height="44.0" fill="#b51f1f"/>
<rect x="498.3" y="390.8" width="2.8" height="44.0" fill="#2aab2a"/>
<rect x="505.1" y="389" width="2.8" height="45.8" fill="#b51f1f"/>
<rect x="511.8" y="399.2" width="2.8" height="35.6" fill="#2aab2a"/>
<rect x="518.6" y="387.8" width="2.8" height="47.0" fill="#2aab2a"/>
<rect x="525.4" y="386.5" width="2.8" height="48.3" fill="#b51f1f"/>
<rect x="532.2" y="388.3" width="2.8" height="46.5" fill="#2aab2a"/>
<rect x="539.0" y="395.4" width="2.8" height="39.4" fill="#b51f1f"/>
<rect x="545.7" y="413.2" width="2.8" height="21.6" fill="#2aab2a"/>
<rect x="552.5" y="399.3" width="2.8" height="35.5" fill="#2aab2a"/>
<rect x="559.3" y="399.3" width="2.8" height="35.5" fill="#b51f1f"/>
<rect x="566.1" y="392.2" width="2.8" height="42.6" fill="#b51f1f"/>
<rect x="572.9" y="401" width="2.8" height="33.8" fill="#b51f1f"/>
<rect x="579.6" y="412.7" width="2.8" height="22.1" fill="#b51f1f"/>
<rect x="586.4" y="412.5" width="2.8" height="22.3" fill="#2aab2a"/>
<rect x="593.2" y="396.7" width="2.8" height="38.1" fill="#2aab2a"/>
<rect x="600.0" y="402.6" width="2.8" height="32.2" fill="#b51f1f"/>
<rect x="606.8" y="395" width="2.8" height="39.8" fill="#2aab2a"/>
<rect x="613.5" y="388.4" width="2.8" height="46.4" fill="#2aab2a"/>
<rect x="620.3" y="393.4" width="2.8" height="41.4" fill="#b51f1f"/>
<rect x="627.1" y="398.5" width="2.8" height="36.3" fill="#b51f1f"/>
<rect x="633.9" y="404.8" width="2.8" height="30.0" fill="#b51f1f"/>
<rect x="640.7" y="398.8" width="2.8" height="36.0" fill="#2aab2a"/>
<rect x="647.4" y="393.4" width="2.8" height="41.4" fill="#b51f1f"/>
<rect x="654.2" y="372.1" width="2.8" height="62.7" fill="#2aab2a"/>
<rect x="661.0" y="388.4" width="2.8" height="46.4" fill="#2aab2a"/>
<rect x="667.8" y="398" width="2.8" height="36.8" fill="#2aab2a"/>
<rect x="674.6" y="405.6" width="2.8" height="29.2" fill="#b51f1f"/>
<rect x="681.3" y="401" width="2.8" height="33.8" fill="#2aab2a"/>
<rect x="688.1" y="398" width="2.8" height="36.8" fill="#b51f1f"/>
<rect x="694.9" y="393.4" width="2.8" height="41.4" fill="#2aab2a"/>
<rect x="701.7" y="392.2" width="2.8" height="42.6" fill="#b51f1f"/>
<rect x="708.5" y="399.3" width="2.8" height="35.5" fill="#b51f1f"/>
<rect x="715.2" y="397.5" width="2.8" height="37.3" fill="#2aab2a"/>
<rect x="722.0" y="395" width="2.8" height="39.8" fill="#2aab2a"/>
<rect x="728.8" y="400" width="2.8" height="34.8" fill="#2aab2a"/>
<rect x="735.6" y="396.7" width="2.8" height="38.1" fill="#2aab2a"/>
<rect x="742.4" y="392.4" width="2.8" height="42.4" fill="#2aab2a"/>
<rect x="749.1" y="406.1" width="2.8" height="28.7" fill="#b51f1f"/>
<rect x="755.9" y="398.5" width="2.8" height="36.3" fill="#2aab2a"/>
<rect x="762.7" y="417" width="2.8" height="17.8" fill="#b51f1f"/>
<rect x="769.5" y="398" width="2.8" height="36.8" fill="#2aab2a"/>
<rect x="776.3" y="393.4" width="2.8" height="41.4" fill="#2aab2a"/>
<line x1="48" y1="437.8" x2="938" y2="437.8" stroke="#cdcdcd" stroke-width="1" stroke-dasharray="1.5,2"/>
<line x1="48" y1="465.6" x2="938" y2="465.6" stroke="#cdcdcd" stroke-width="1" stroke-dasharray="1.5,2"/>
<line x1="48" y1="493.4" x2="938" y2="493.4" stroke="#cdcdcd" stroke-width="1" stroke-dasharray="1.5,2"/>
<line x1="48" y1="454.5" x2="940.5" y2="454.5" stroke="#cbcbcb" stroke-width="1"/>
<line x1="48" y1="477.2" x2="940.5" y2="477.2" stroke="#cbcbcb" stroke-width="1"/>
<path d="M59.0,440.0 L65.8,473.4 L72.5,451.1 L79.3,465.8 L86.1,454.6 L92.9,456.7 L99.7,475.0 L106.4,444.9 L113.2,443.3 L120.0,468.0 L126.8,473.4 L133.6,473.4 L140.3,490.2 L147.1,488.4 L153.9,454.6 L160.7,446.5 L167.5,441.4 L174.2,439.4 L181.0,451.6 L187.8,445.2 L194.6,479.5 L201.4,487.1 L208.1,459.7 L214.9,475.7 L221.7,456.6 L228.5,457.2 L235.3,483.8 L242.0,485.3 L248.8,492.2 L255.6,491.7 L262.4,466.0 L269.2,479.5 L275.9,485.1 L282.7,469.3 L289.5,484.6 L296.3,490.2 L303.1,451.6 L309.8,448.3 L316.6,446.5 L323.4,477.0 L330.2,483.3 L337.0,488.9 L343.7,492.2 L350.5,493.0 L357.3,493.5 L364.1,493.5 L370.9,456.6 L377.6,463.5 L384.4,483.3 L391.2,488.4 L398.0,457.9 L404.8,472.6 L411.5,456.6 L418.3,465.5 L425.1,452.3 L431.9,444.0 L438.7,442.2 L445.4,440.2 L452.2,465.5 L459.0,482.8 L465.8,488.4 L472.6,463.0 L479.3,480.8 L486.1,486.3 L492.9,489.6 L499.7,482.0 L506.5,487.9 L513.2,455.4 L520.0,453.4 L526.8,477.7 L533.6,452.8 L540.4,461.7 L547.1,457.9 L553.9,448.3 L560.7,477.0 L567.5,484.6 L574.3,487.9 L581.0,488.9 L587.8,465.5 L594.6,444.0 L601.4,442.2 L608.2,439.4 L614.9,438.4 L621.7,463.0 L628.5,459.2 L635.3,482.0 L642.1,460.5 L648.8,482.0 L655.6,457.9 L662.4,451.6 L669.2,444.7 L676.0,457.9 L682.7,455.4 L689.5,465.5 L696.3,449.0 L703.1,448.3 L709.9,443.2 L716.6,438.4 L723.4,438.4 L730.2,438.1 L737.0,438.1 L743.8,438.1 L750.5,460.5 L757.3,448.3 L764.1,462.5 L770.9,445.7 L777.7,455.4" fill="none" stroke="#8ab88a" stroke-width="1"/>
<line x1="48" y1="506.4" x2="938" y2="506.4" stroke="#cdcdcd" stroke-width="1" stroke-dasharray="1.5,2"/>
<line x1="48" y1="525.9" x2="938" y2="525.9" stroke="#cdcdcd" stroke-width="1" stroke-dasharray="1.5,2"/>
<line x1="48" y1="545.0" x2="938" y2="545.0" stroke="#cdcdcd" stroke-width="1" stroke-dasharray="1.5,2"/>
<path d="M50.0,514.5 C57.6,514.2 81.8,513.0 95.8,512.7 C109.8,512.4 122.0,512.1 133.8,512.7 C145.6,513.3 156.2,516.1 166.8,516.3 C177.4,516.5 186.3,513.7 197.3,513.7 C208.3,513.7 222.2,514.3 232.8,516.3 C243.4,518.3 252.0,523.2 260.7,525.9 C269.4,528.6 278.8,530.5 285.0,532.3 C291.2,534.1 292.6,535.8 297.7,536.6 C302.8,537.4 309.1,537.0 315.5,537.3 C321.9,537.5 326.9,536.7 335.8,538.1 C344.7,539.5 358.2,543.7 368.8,545.7 C379.4,547.7 392.0,549.1 399.2,550.0 C406.4,550.9 406.4,551.4 411.9,550.8 C417.4,550.2 424.6,548.5 432.2,546.2 C439.8,544.0 450.4,539.3 457.6,537.3 C464.8,535.3 470.3,534.3 475.4,534.0 C480.5,533.7 482.5,534.8 488.0,535.6 C493.5,536.5 502.2,538.0 508.4,539.1 C514.6,540.2 519.7,542.1 525.0,542.0 C530.3,541.9 533.9,539.7 540.2,538.7 C546.5,537.7 554.5,536.6 563.0,536.1 C571.5,535.6 583.4,536.3 591.0,535.6 C598.6,534.9 602.9,533.1 608.8,531.8 C614.7,530.4 621.0,528.6 626.5,527.5 C632.0,526.4 635.8,525.8 641.8,525.0 C647.7,524.2 655.2,523.7 662.0,522.9 C668.8,522.1 675.6,521.1 682.4,520.4 C689.2,519.6 695.9,519.2 702.7,518.4 C709.5,517.6 716.2,516.9 723.0,515.8 C729.8,514.6 737.0,512.6 743.3,511.5 C749.6,510.4 755.4,509.7 761.0,509.0 C766.6,508.3 774.3,507.5 777.0,507.2" fill="none" stroke="#55558f" stroke-width="1"/>
<path d="M50.0,514.5 C53.4,514.0 60.7,511.8 70.4,511.2 C80.2,510.6 97.9,510.4 108.5,510.7 C119.1,510.9 127.5,511.8 133.8,512.7 C140.1,513.6 141.8,515.4 146.5,516.3 C151.2,517.1 157.5,518.0 161.8,517.8 C166.0,517.6 167.8,516.4 172.0,515.3 C176.2,514.2 182.8,511.5 187.0,511.2 C191.2,510.9 193.1,512.7 197.3,513.7 C201.6,514.7 207.4,516.6 212.5,517.0 C217.6,517.4 223.0,515.6 227.7,516.3 C232.3,517.0 237.0,519.2 240.4,521.4 C243.8,523.6 244.6,527.5 248.0,529.7 C251.4,531.9 255.6,533.1 260.7,534.8 C265.8,536.5 272.8,538.2 278.5,539.9 C284.2,541.6 290.7,544.8 295.2,545.0 C299.7,545.2 301.5,542.6 305.3,541.1 C309.1,539.6 313.8,536.6 318.0,536.0 C322.2,535.4 325.6,535.8 330.7,537.3 C335.8,538.8 343.0,542.6 348.5,545.0 C354.0,547.4 359.1,550.9 363.7,551.8 C368.3,552.7 372.0,550.1 376.4,550.5 C380.8,550.9 386.1,554.1 390.3,554.3 C394.5,554.5 398.1,552.5 401.8,551.8 C405.4,551.1 407.7,551.6 411.9,550.0 C416.1,548.4 422.5,545.1 427.1,542.4 C431.8,539.6 435.6,535.8 439.8,533.5 C444.0,531.2 448.3,528.9 452.5,528.5 C456.7,528.1 461.8,530.6 465.2,531.0 C468.6,531.4 469.8,530.2 472.8,531.0 C475.8,531.8 479.2,533.9 483.0,535.6 C486.8,537.3 491.9,539.6 495.7,541.1 C499.5,542.6 502.0,544.2 505.8,544.4 C509.6,544.6 515.3,542.8 518.5,542.4 C521.7,542.0 521.4,542.9 525.0,542.0 C528.6,541.1 535.6,538.4 540.2,536.9 C544.9,535.4 549.1,533.6 552.9,533.1 C556.7,532.6 559.6,533.2 563.0,533.6 C566.4,534.0 569.0,535.3 573.2,535.6 C577.5,535.9 583.9,536.5 588.5,535.6 C593.1,534.8 596.9,532.4 601.1,530.5 C605.3,528.6 610.0,525.7 613.8,524.2 C617.6,522.7 620.6,522.0 624.0,521.6 C627.4,521.2 631.4,521.8 634.1,521.6 C636.9,521.4 638.0,520.3 640.5,520.4 C643.0,520.5 645.8,522.4 649.4,522.4 C653.0,522.4 658.2,521.1 662.0,520.4 C665.8,519.7 668.4,518.9 672.2,518.4 C676.0,517.9 679.8,517.6 684.9,517.3 C690.0,517.0 698.1,516.9 702.7,516.6 C707.4,516.3 708.6,516.3 712.8,515.3 C717.0,514.3 722.9,512.2 728.0,510.7 C733.1,509.2 738.2,507.2 743.3,506.4 C748.4,505.6 753.4,506.1 758.5,505.7 C763.6,505.3 770.6,504.2 773.7,503.9 C776.8,503.6 776.5,503.9 777.0,503.9" fill="none" stroke="#42ab42" stroke-width="1.5"/>
<line x1="47" y1="370.3" x2="943" y2="370.3" stroke="#c0c0c0" stroke-width="1.6"/>
<line x1="47" y1="435.8" x2="943" y2="435.8" stroke="#c0c0c0" stroke-width="1.6"/>
<line x1="47" y1="501.3" x2="943" y2="501.3" stroke="#c0c0c0" stroke-width="1.6"/>
<line x1="47" y1="564.4" x2="941" y2="564.4" stroke="#c4c4c4" stroke-width="1.1"/>
<line x1="943.6" y1="81.8" x2="943.6" y2="435.8" stroke="#cccccc" stroke-width="1"/>
<line x1="940.6" y1="435.8" x2="940.6" y2="564.6" stroke="#cccccc" stroke-width="1"/>
<line x1="940.6" y1="87.5" x2="943.6" y2="87.5" stroke="#2a2a2a" stroke-width="0.9"/><text x="944.8" y="90.0" font-size="6.6" fill="#383838" textLength="24.2" lengthAdjust="spacingAndGlyphs">5'000.00</text>
<line x1="940.6" y1="122.3" x2="943.6" y2="122.3" stroke="#2a2a2a" stroke-width="0.9"/><text x="944.8" y="124.8" font-size="6.6" fill="#383838" textLength="24.2" lengthAdjust="spacingAndGlyphs">4'750.00</text>
<line x1="940.6" y1="156.6" x2="943.6" y2="156.6" stroke="#2a2a2a" stroke-width="0.9"/><text x="944.8" y="159.1" font-size="6.6" fill="#383838" textLength="24.2" lengthAdjust="spacingAndGlyphs">4'500.00</text>
<line x1="940.6" y1="191.0" x2="943.6" y2="191.0" stroke="#2a2a2a" stroke-width="0.9"/><text x="944.8" y="193.5" font-size="6.6" fill="#383838" textLength="24.2" lengthAdjust="spacingAndGlyphs">4'250.00</text>
<line x1="940.6" y1="225.3" x2="943.6" y2="225.3" stroke="#2a2a2a" stroke-width="0.9"/><text x="944.8" y="227.8" font-size="6.6" fill="#383838" textLength="24.2" lengthAdjust="spacingAndGlyphs">4'000.00</text>
<line x1="940.6" y1="259.8" x2="943.6" y2="259.8" stroke="#2a2a2a" stroke-width="0.9"/><text x="944.8" y="262.3" font-size="6.6" fill="#383838" textLength="24.2" lengthAdjust="spacingAndGlyphs">3'750.00</text>
<line x1="940.6" y1="294.2" x2="943.6" y2="294.2" stroke="#2a2a2a" stroke-width="0.9"/><text x="944.8" y="296.7" font-size="6.6" fill="#383838" textLength="24.2" lengthAdjust="spacingAndGlyphs">3'500.00</text>
<line x1="940.6" y1="329.0" x2="943.6" y2="329.0" stroke="#2a2a2a" stroke-width="0.9"/><text x="944.8" y="331.5" font-size="6.6" fill="#383838" textLength="24.2" lengthAdjust="spacingAndGlyphs">3'250.00</text>
<line x1="940.6" y1="363.6" x2="943.6" y2="363.6" stroke="#2a2a2a" stroke-width="0.9"/><text x="944.8" y="366.1" font-size="6.6" fill="#383838" textLength="24.2" lengthAdjust="spacingAndGlyphs">3'000.00</text>
<line x1="940.6" y1="375.6" x2="943.6" y2="375.6" stroke="#2a2a2a" stroke-width="0.9"/><text x="944.8" y="378.1" font-size="6.6" fill="#383838" textLength="26.4" lengthAdjust="spacingAndGlyphs">1'500'000</text>
<line x1="940.6" y1="395.3" x2="943.6" y2="395.3" stroke="#2a2a2a" stroke-width="0.9"/><text x="944.8" y="397.8" font-size="6.6" fill="#383838" textLength="26.4" lengthAdjust="spacingAndGlyphs">1'000'000</text>
<line x1="940.6" y1="415.0" x2="943.6" y2="415.0" stroke="#2a2a2a" stroke-width="0.9"/><text x="944.8" y="417.5" font-size="6.6" fill="#383838" textLength="22.5" lengthAdjust="spacingAndGlyphs">500'000</text>
<line x1="938" y1="439.2" x2="940.6" y2="439.2" stroke="#2a2a2a" stroke-width="0.9"/><text x="941.4" y="441.7" font-size="6.6" fill="#383838" textLength="13.5" lengthAdjust="spacingAndGlyphs">1100</text>
<line x1="938" y1="466.2" x2="940.6" y2="466.2" stroke="#2a2a2a" stroke-width="0.9"/><text x="941.4" y="468.7" font-size="6.6" fill="#383838" textLength="9.3" lengthAdjust="spacingAndGlyphs">550</text>
<line x1="938" y1="493.8" x2="940.6" y2="493.8" stroke="#2a2a2a" stroke-width="0.9"/><text x="941.4" y="496.3" font-size="6.6" fill="#383838" textLength="6.6" lengthAdjust="spacingAndGlyphs">00</text>
<line x1="938" y1="507.2" x2="940.6" y2="507.2" stroke="#2a2a2a" stroke-width="0.9"/><text x="945.1" y="509.7" font-size="6.6" fill="#383838" textLength="9.8" lengthAdjust="spacingAndGlyphs">100</text>
<line x1="938" y1="525.8" x2="940.6" y2="525.8" stroke="#2a2a2a" stroke-width="0.9"/><text x="941.2" y="528.3" font-size="6.6" fill="#383838" textLength="6.6" lengthAdjust="spacingAndGlyphs">00</text>
<line x1="938" y1="544.1" x2="940.6" y2="544.1" stroke="#2a2a2a" stroke-width="0.9"/><text x="944.4" y="546.6" font-size="6.6" fill="#383838" textLength="13.2" lengthAdjust="spacingAndGlyphs">-100</text>
<line x1="938" y1="561.6" x2="940.6" y2="561.6" stroke="#2a2a2a" stroke-width="0.9"/><text x="941" y="564.1" font-size="6.6" fill="#383838" textLength="16.6" lengthAdjust="spacingAndGlyphs">-200</text>
<rect x="944.1" y="252.1" width="29.3" height="8.6" fill="#2b2b2b"/>
<rect x="940.3" y="450.5" width="3.5" height="8.7" fill="#222"/>
<rect x="940.3" y="502.2" width="3.5" height="7.8" fill="#222"/>
<line x1="59.0" y1="564.8" x2="59.0" y2="567.4" stroke="#333" stroke-width="1"/>
<text x="53.7" y="574.2" font-size="7.6" fill="#363680" textLength="10.6" lengthAdjust="spacingAndGlyphs" stroke="#363680" stroke-width="0.2">Lug</text>
<line x1="86.1" y1="564.8" x2="86.1" y2="567.4" stroke="#333" stroke-width="1"/>
<text x="80.4" y="574.2" font-size="7.6" fill="#363680" textLength="11.4" lengthAdjust="spacingAndGlyphs" stroke="#363680" stroke-width="0.2">Ago</text>
<line x1="120.0" y1="564.8" x2="120.0" y2="567.4" stroke="#333" stroke-width="1"/>
<text x="115.2" y="574.2" font-size="7.6" fill="#363680" textLength="9.6" lengthAdjust="spacingAndGlyphs" stroke="#363680" stroke-width="0.2">Set</text>
<line x1="147.1" y1="564.8" x2="147.1" y2="567.4" stroke="#333" stroke-width="1"/>
<text x="142.9" y="574.2" font-size="7.6" fill="#363680" textLength="8.5" lengthAdjust="spacingAndGlyphs" stroke="#363680" stroke-width="0.2">Ott</text>
<line x1="174.2" y1="564.8" x2="174.2" y2="567.4" stroke="#333" stroke-width="1"/>
<text x="168.6" y="574.2" font-size="7.6" fill="#363680" textLength="11.3" lengthAdjust="spacingAndGlyphs" stroke="#363680" stroke-width="0.2">Nov</text>
<line x1="208.1" y1="564.8" x2="208.1" y2="567.4" stroke="#333" stroke-width="1"/>
<text x="203.5" y="574.2" font-size="7.6" fill="#363680" textLength="9.2" lengthAdjust="spacingAndGlyphs" stroke="#363680" stroke-width="0.2">Dic</text>
<line x1="235.3" y1="564.8" x2="235.3" y2="567.4" stroke="#333" stroke-width="1"/>
<text x="227.2" y="574.2" font-size="7.6" fill="#d42a2a" textLength="16.2" lengthAdjust="spacingAndGlyphs" font-weight="bold">2022</text>
<line x1="269.2" y1="564.8" x2="269.2" y2="567.4" stroke="#333" stroke-width="1"/>
<text x="263.7" y="574.2" font-size="7.6" fill="#363680" textLength="11.0" lengthAdjust="spacingAndGlyphs" stroke="#363680" stroke-width="0.2">Feb</text>
<line x1="296.3" y1="564.8" x2="296.3" y2="567.4" stroke="#333" stroke-width="1"/>
<text x="290.8" y="574.2" font-size="7.6" fill="#363680" textLength="11.0" lengthAdjust="spacingAndGlyphs" stroke="#363680" stroke-width="0.2">Mar</text>
<line x1="323.4" y1="564.8" x2="323.4" y2="567.4" stroke="#333" stroke-width="1"/>
<text x="318.4" y="574.2" font-size="7.6" fill="#363680" textLength="9.9" lengthAdjust="spacingAndGlyphs" stroke="#363680" stroke-width="0.2">Apr</text>
<line x1="350.5" y1="564.8" x2="350.5" y2="567.4" stroke="#333" stroke-width="1"/>
<text x="344.3" y="574.2" font-size="7.6" fill="#363680" textLength="12.4" lengthAdjust="spacingAndGlyphs" stroke="#363680" stroke-width="0.2">Mag</text>
<line x1="384.4" y1="564.8" x2="384.4" y2="567.4" stroke="#333" stroke-width="1"/>
<text x="379.5" y="574.2" font-size="7.6" fill="#363680" textLength="9.9" lengthAdjust="spacingAndGlyphs" stroke="#363680" stroke-width="0.2">Giu</text>
<line x1="411.5" y1="564.8" x2="411.5" y2="567.4" stroke="#333" stroke-width="1"/>
<text x="406.2" y="574.2" font-size="7.6" fill="#363680" textLength="10.6" lengthAdjust="spacingAndGlyphs" stroke="#363680" stroke-width="0.2">Lug</text>
<line x1="438.7" y1="564.8" x2="438.7" y2="567.4" stroke="#333" stroke-width="1"/>
<text x="433.0" y="574.2" font-size="7.6" fill="#363680" textLength="11.4" lengthAdjust="spacingAndGlyphs" stroke="#363680" stroke-width="0.2">Ago</text>
<line x1="472.6" y1="564.8" x2="472.6" y2="567.4" stroke="#333" stroke-width="1"/>
<text x="467.8" y="574.2" font-size="7.6" fill="#363680" textLength="9.6" lengthAdjust="spacingAndGlyphs" stroke="#363680" stroke-width="0.2">Set</text>
<line x1="499.7" y1="564.8" x2="499.7" y2="567.4" stroke="#333" stroke-width="1"/>
<text x="495.4" y="574.2" font-size="7.6" fill="#363680" textLength="8.5" lengthAdjust="spacingAndGlyphs" stroke="#363680" stroke-width="0.2">Ott</text>
<line x1="533.6" y1="564.8" x2="533.6" y2="567.4" stroke="#333" stroke-width="1"/>
<text x="527.9" y="574.2" font-size="7.6" fill="#363680" textLength="11.3" lengthAdjust="spacingAndGlyphs" stroke="#363680" stroke-width="0.2">Nov</text>
<line x1="560.7" y1="564.8" x2="560.7" y2="567.4" stroke="#333" stroke-width="1"/>
<text x="556.1" y="574.2" font-size="7.6" fill="#363680" textLength="9.2" lengthAdjust="spacingAndGlyphs" stroke="#363680" stroke-width="0.2">Dic</text>
<line x1="587.8" y1="564.8" x2="587.8" y2="567.4" stroke="#333" stroke-width="1"/>
<text x="579.7" y="574.2" font-size="7.6" fill="#d42a2a" textLength="16.2" lengthAdjust="spacingAndGlyphs" font-weight="bold">2023</text>
<line x1="621.7" y1="564.8" x2="621.7" y2="567.4" stroke="#333" stroke-width="1"/>
<text x="616.2" y="574.2" font-size="7.6" fill="#363680" textLength="11.0" lengthAdjust="spacingAndGlyphs" stroke="#363680" stroke-width="0.2">Feb</text>
<line x1="648.8" y1="564.8" x2="648.8" y2="567.4" stroke="#333" stroke-width="1"/>
<text x="643.3" y="574.2" font-size="7.6" fill="#363680" textLength="11.0" lengthAdjust="spacingAndGlyphs" stroke="#363680" stroke-width="0.2">Mar</text>
<line x1="676.0" y1="564.8" x2="676.0" y2="567.4" stroke="#333" stroke-width="1"/>
<text x="671.0" y="574.2" font-size="7.6" fill="#363680" textLength="9.9" lengthAdjust="spacingAndGlyphs" stroke="#363680" stroke-width="0.2">Apr</text>
<line x1="703.1" y1="564.8" x2="703.1" y2="567.4" stroke="#333" stroke-width="1"/>
<text x="696.9" y="574.2" font-size="7.6" fill="#363680" textLength="12.4" lengthAdjust="spacingAndGlyphs" stroke="#363680" stroke-width="0.2">Mag</text>
<line x1="737.0" y1="564.8" x2="737.0" y2="567.4" stroke="#333" stroke-width="1"/>
<text x="732.0" y="574.2" font-size="7.6" fill="#363680" textLength="9.9" lengthAdjust="spacingAndGlyphs" stroke="#363680" stroke-width="0.2">Giu</text>
<line x1="764.1" y1="564.8" x2="764.1" y2="567.4" stroke="#333" stroke-width="1"/>
<text x="758.8" y="574.2" font-size="7.6" fill="#363680" textLength="10.6" lengthAdjust="spacingAndGlyphs" stroke="#363680" stroke-width="0.2">Lug</text>
<rect x="64.5" y="353.2" width="74" height="14.3" fill="#fff" stroke="#cfcfcf" stroke-width="0.8" stroke-dasharray="1.2,0.8"/>
<text x="69" y="363.6" font-size="9" fill="#242424" textLength="64.4" lengthAdjust="spacingAndGlyphs" font-weight="bold">VISUALTRADER</text>
<text x="141.6" y="367.6" font-size="6.1" fill="#9c9c9c" textLength="48.4" lengthAdjust="spacingAndGlyphs">Dati di fine giornata</text>
<text x="49.8" y="444.6" font-size="7" fill="#5e9e5e" textLength="95.2" lengthAdjust="spacingAndGlyphs">Relative strength index R.S.I.(2)</text>
<text x="50" y="510.2" font-size="7" fill="#80c080" textLength="26" lengthAdjust="spacingAndGlyphs">MACD(9)</text>
<text x="85.6" y="510.2" font-size="7" fill="#3a3a8a" textLength="40.1" lengthAdjust="spacingAndGlyphs">MACD(9) Sign</text>
</svg>
</body></html>
